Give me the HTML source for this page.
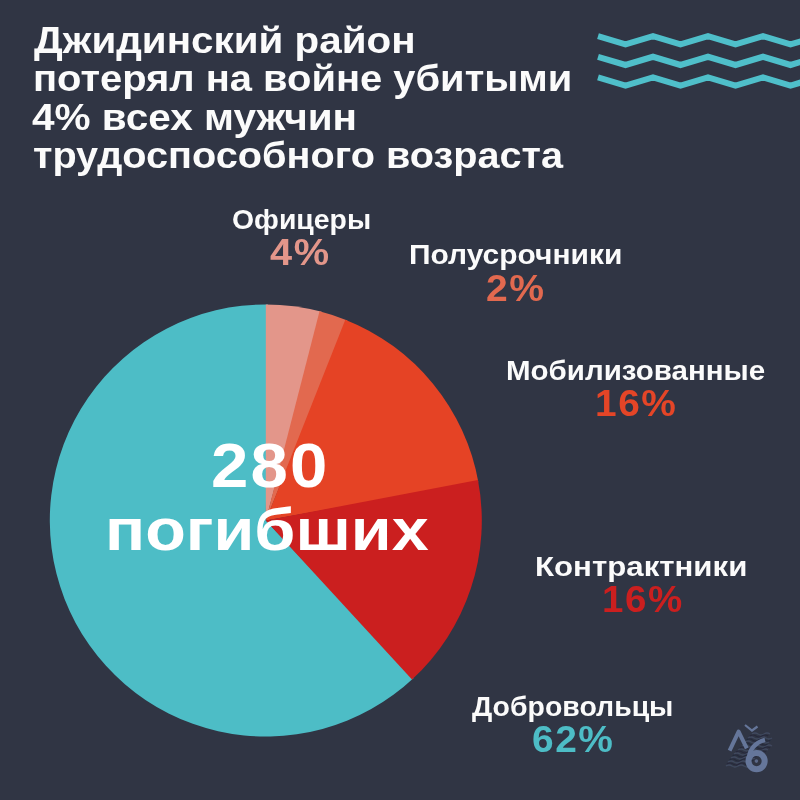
<!DOCTYPE html>
<html lang="ru">
<head>
<meta charset="utf-8">
<title>Джидинский район</title>
<style>
html,body{margin:0;padding:0;}
body{width:800px;height:800px;overflow:hidden;background:#303544;position:relative;font-family:"Liberation Sans","DejaVu Sans",sans-serif;font-weight:bold;}
.t{position:absolute;white-space:nowrap;line-height:1;transform-origin:0 0;}
svg{position:absolute;left:0;top:0;}
</style>
</head>
<body>
<svg width="800" height="800" viewBox="0 0 800 800">
  <g fill="none" stroke="#4fbfca" stroke-width="6.1" stroke-linejoin="miter">
    <path d="M598.0 36.2 L625.5 44.4 L653.0 36.2 L680.5 44.4 L708.0 36.2 L735.5 44.4 L763.0 36.2 L790.5 44.4 L818.0 36.2"/>
    <path d="M598.0 56.8 L625.5 65.0 L653.0 56.8 L680.5 65.0 L708.0 56.8 L735.5 65.0 L763.0 56.8 L790.5 65.0 L818.0 56.8"/>
    <path d="M598.0 77.4 L625.5 85.6 L653.0 77.4 L680.5 85.6 L708.0 77.4 L735.5 85.6 L763.0 77.4 L790.5 85.6 L818.0 77.4"/>
  </g>
  <g id="pie">
    <path fill="#4dbdc6" d="M265.8 520.5 L413.66 677.96 A216 216 0 1 1 268.06 304.51 Z"/>
    <path fill="#e3968a" d="M265.8 520.5 L265.80 304.50 A216 216 0 0 1 321.70 311.86 Z"/>
    <path fill="#e2694f" d="M265.8 520.5 L319.52 311.29 A216 216 0 0 1 347.41 320.51 Z"/>
    <path fill="#e54325" d="M265.8 520.5 L345.31 319.67 A216 216 0 0 1 478.39 482.25 Z"/>
    <path fill="#cb1f1f" d="M265.8 520.5 L477.97 480.03 A216 216 0 0 1 412.01 679.50 Z"/>
  </g>
  <defs><filter id="sb" x="-20%" y="-20%" width="140%" height="140%"><feGaussianBlur stdDeviation="0.45"/></filter></defs>
  <g id="logo" filter="url(#sb)">
    <g fill="none" stroke="#46516a" stroke-width="1.3" opacity="0.7">
      <path d="M726 766 q3 -2 6 0 t6 0 t6 0 t6 0"/>
      <path d="M728 762 q3 -2 6 0 t6 0 t6 0 t6 0"/>
      <path d="M731 758 q3 -2 6 0 t6 0 t6 0 t6 0"/>
      <path d="M734 754 q3 -2 6 0 t6 0 t6 0 t6 0 t6 0"/>
      <path d="M738 750 q3 -2 6 0 t6 0 t6 0 t6 0 t6 0"/>
      <path d="M742 746 q3 -2 6 0 t6 0 t6 0 t6 0 t6 0"/>
      <path d="M745 742 q3 -2 6 0 t6 0 t6 0 t6 0"/>
      <path d="M748 738 q3 -2 6 0 t6 0 t6 0 t6 0"/>
      <path d="M752 734 q3 -2 6 0 t6 0 t6 0"/>
    </g>
    <g fill="none" stroke="#22273a" stroke-width="1.1" opacity="0.8">
      <path d="M727 764 q3 -2 6 0 t6 0 t6 0 t6 0"/>
      <path d="M729.5 760 q3 -2 6 0 t6 0 t6 0 t6 0"/>
      <path d="M732.5 756 q3 -2 6 0 t6 0 t6 0 t6 0"/>
      <path d="M736 752 q3 -2 6 0 t6 0 t6 0 t6 0 t6 0"/>
      <path d="M740 748 q3 -2 6 0 t6 0 t6 0 t6 0 t6 0"/>
      <path d="M743.5 744 q3 -2 6 0 t6 0 t6 0 t6 0"/>
      <path d="M746.5 740 q3 -2 6 0 t6 0 t6 0 t6 0"/>
      <path d="M750 736 q3 -2 6 0 t6 0 t6 0"/>
    </g>
    <g fill="none" stroke="#65769a" stroke-linecap="butt">
      <path d="M729.6 750.6 L738.6 731.6 L746.8 748.4" stroke-width="4" stroke-linejoin="round"/>
      <path d="M745 725 L752 730.5 L757.5 726.5" stroke-width="2.2"/>
      <circle cx="756.6" cy="761.1" r="8.1" stroke-width="6"/>
      <path d="M765 739.8 C755.5 742 748.8 750 748.9 759.5" stroke-width="4.4"/>
    </g>
    <circle cx="756.4" cy="761.1" r="1.8" fill="#65769a" opacity="0.8"/>
  </g>
</svg>
<div class="t" style="left:34.0px;top:22.0px;font-size:37px;letter-spacing:0px;transform:scaleX(1.0911);color:#fbfbfb">Джидинский район</div>
<div class="t" style="left:32.6px;top:60.4px;font-size:37px;letter-spacing:0px;transform:scaleX(1.0780);color:#fbfbfb">потерял на войне убитыми</div>
<div class="t" style="left:31.7px;top:98.9px;font-size:37px;letter-spacing:0px;transform:scaleX(1.0949);color:#fbfbfb">4% всех мужчин</div>
<div class="t" style="left:33.1px;top:136.6px;font-size:37px;letter-spacing:0px;transform:scaleX(1.0717);color:#fbfbfb">трудоспособного возраста</div>
<div class="t" style="left:231.6px;top:204.8px;font-size:28.5px;letter-spacing:0px;transform:scaleX(0.9956);color:#fbfbfb">Офицеры</div>
<div class="t" style="left:408.5px;top:239.9px;font-size:28.5px;letter-spacing:0px;transform:scaleX(1.0503);color:#fbfbfb">Полусрочники</div>
<div class="t" style="left:506.3px;top:356.3px;font-size:28.5px;letter-spacing:0px;transform:scaleX(1.0348);color:#fbfbfb">Мобилизованные</div>
<div class="t" style="left:535.4px;top:551.5px;font-size:28.5px;letter-spacing:0px;transform:scaleX(1.0947);color:#fbfbfb">Контрактники</div>
<div class="t" style="left:472.0px;top:691.9px;font-size:28.5px;letter-spacing:0px;transform:scaleX(0.9980);color:#fbfbfb">Добровольцы</div>
<div class="t" style="left:270.3px;top:234.1px;font-size:37.5px;letter-spacing:1.5px;transform:scaleX(1.0594);color:#e3968a">4%</div>
<div class="t" style="left:486.2px;top:269.5px;font-size:37.5px;letter-spacing:1.5px;transform:scaleX(1.0409);color:#e2694f">2%</div>
<div class="t" style="left:594.9px;top:385.0px;font-size:37.5px;letter-spacing:1.5px;transform:scaleX(1.0347);color:#e44527">16%</div>
<div class="t" style="left:601.7px;top:580.8px;font-size:37.5px;letter-spacing:1.5px;transform:scaleX(1.0267);color:#cb1f1f">16%</div>
<div class="t" style="left:531.6px;top:721.0px;font-size:37.5px;letter-spacing:1.5px;transform:scaleX(1.0369);color:#4dbdc6">62%</div>
<div class="t" style="left:210.7px;top:434.2px;font-size:63px;letter-spacing:2px;transform:scaleX(1.0654);color:#ffffff">280</div>
<div class="t" style="left:104.6px;top:500.0px;font-size:60px;letter-spacing:0px;transform:scaleX(1.1080);color:#ffffff">погибших</div>
</body>
</html>
